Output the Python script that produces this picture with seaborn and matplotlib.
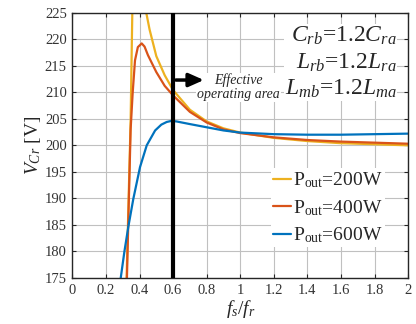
import numpy as np
import pandas as pd
import matplotlib
matplotlib.use("Agg")
import matplotlib.pyplot as plt
import seaborn as sns

# ---- data ----
x_200 = [0.318, 0.323, 0.335, 0.347, 0.357, 0.365, 0.40, 0.425, 0.44, 0.46, 0.50, 0.55, 0.60,
         0.70, 0.80, 0.90, 1.00, 1.20, 1.40, 1.60, 1.80, 2.00]
v_200 = [168.0, 175.0, 190.0, 204.7, 225.0, 232.0, 245.0, 232.0, 225.0, 221.8, 216.8, 213.2, 210.4,
         206.7, 204.5, 203.2, 202.4, 201.4, 200.8, 200.4, 200.2, 200.0]

x_400 = [0.320, 0.325, 0.335, 0.347, 0.359, 0.373, 0.39, 0.413, 0.43, 0.45, 0.50, 0.55, 0.60,
         0.70, 0.80, 0.90, 1.00, 1.20, 1.40, 1.60, 1.80, 2.00]
v_400 = [168.0, 175.0, 188.0, 203.0, 209.8, 216.0, 218.5, 219.2, 218.6, 217.0, 213.8, 211.2, 209.4,
         206.3, 204.3, 203.0, 202.3, 201.5, 201.0, 200.7, 200.5, 200.3]

x_600 = [0.28, 0.288, 0.31, 0.333, 0.363, 0.403, 0.443, 0.493, 0.53, 0.562, 0.59, 0.62,
         0.70, 0.80, 0.90, 1.00, 1.20, 1.40, 1.60, 1.80, 2.00]
v_600 = [173.5, 175.0, 180.0, 184.6, 189.9, 195.9, 200.0, 202.8, 203.9, 204.4, 204.6, 204.5,
         204.0, 203.4, 202.8, 202.4, 202.1, 202.0, 202.0, 202.1, 202.2]

series_labels = [r"P$_{\rm out}$=200W", r"P$_{\rm out}$=400W", r"P$_{\rm out}$=600W"]
colors = ["#EDB120", "#D95319", "#0072BD"]

x_ticks = [0, 0.2, 0.4, 0.6, 0.8, 1, 1.2, 1.4, 1.6, 1.8, 2]
x_tick_labels = ["0", "0.2", "0.4", "0.6", "0.8", "1", "1.2", "1.4", "1.6", "1.8", "2"]
y_ticks = [175, 180, 185, 190, 195, 200, 205, 210, 215, 220, 225]
boundary_x = 0.6

# ---- build table ----
df = pd.concat([
    pd.DataFrame({"fs": x_200, "V": v_200, "P": series_labels[0]}),
    pd.DataFrame({"fs": x_400, "V": v_400, "P": series_labels[1]}),
    pd.DataFrame({"fs": x_600, "V": v_600, "P": series_labels[2]}),
], ignore_index=True)

sns.set_style("whitegrid")
plt.rcParams["font.family"] = ["Liberation Serif", "DejaVu Serif"]
plt.rcParams["mathtext.fontset"] = "custom"
plt.rcParams["mathtext.rm"] = "Liberation Serif"
plt.rcParams["mathtext.it"] = "Liberation Serif:italic"

fig = plt.figure(figsize=(4.16, 3.24), dpi=100)
ax = fig.add_axes([0.174, 0.142, 0.807, 0.819])

sns.lineplot(data=df, x="fs", y="V", hue="P", palette=dict(zip(series_labels, colors)),
             estimator=None, sort=False, linewidth=1.6, ax=ax, legend=True)

ax.axvline(boundary_x, color="black", linewidth=3, zorder=5)

ax.set_xlim(0, 2)
ax.set_ylim(175, 225)
ax.set_xticks(x_ticks)
ax.set_xticklabels(x_tick_labels)
ax.set_yticks(y_ticks)
ax.grid(True, color="#c0c0c0", linewidth=0.8)
for s in ax.spines.values():
    s.set_color("#262626")
    s.set_linewidth(1.0)
ax.tick_params(axis="both", direction="in", length=3, labelsize=10.5, colors="#262626",
               top=True, right=True, bottom=True, left=True, labelcolor="#333333", pad=4)
ax.set_xlabel(r"$f_s/f_r$", fontsize=14, labelpad=1)
ax.set_ylabel(r"$V_{Cr}$ [V]", fontsize=14, labelpad=1)

# arrow and annotation
ax.annotate("", xy=(0.8, 212.3), xytext=(boundary_x, 212.3),
            arrowprops=dict(arrowstyle="-|>,head_length=0.9,head_width=0.4", color="black", lw=2.5),
            zorder=6)
ax.text(0.99, 210.9, "Effective\noperating area", fontsize=10, style="italic",
        ha="center", va="center", linespacing=1.1,
        bbox=dict(facecolor="white", edgecolor="none", pad=0.5), zorder=4)

ax.text(1.93, 215.6, "$C_{rb}$=1.2$C_{ra}$\n$L_{rb}$=1.2$L_{ra}$\n$L_{mb}$=1.2$L_{ma}$",
        fontsize=17, ha="right", va="center", linespacing=1.25,
        bbox=dict(facecolor="white", edgecolor="none", pad=0.5), zorder=4)

leg = ax.legend(loc="lower right", bbox_to_anchor=(0.96, 0.08), fontsize=14, frameon=True,
                handlelength=0.9, handletextpad=0.15, borderpad=0.1, labelspacing=0.4,
                fancybox=False)
leg.get_frame().set_edgecolor("none")
leg.get_frame().set_facecolor("white")
leg.get_frame().set_alpha(1.0)

fig.savefig("out.png", dpi=100)
